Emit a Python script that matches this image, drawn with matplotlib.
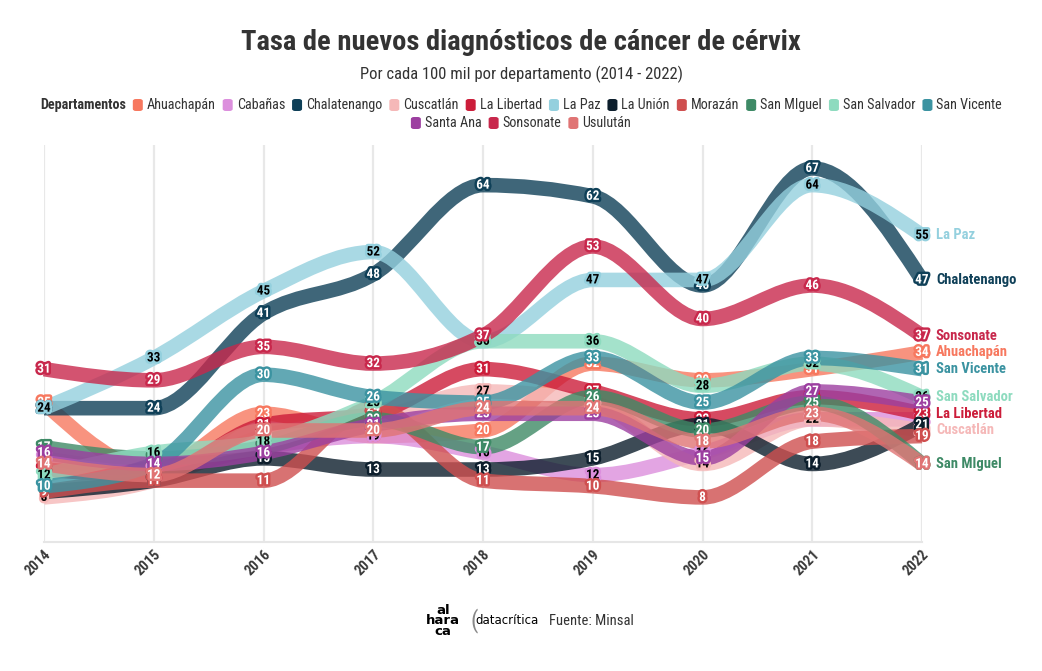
import numpy as np
import matplotlib
matplotlib.use("Agg")
import matplotlib.pyplot as plt
from matplotlib import font_manager
from matplotlib.path import Path
from matplotlib.patches import PathPatch, FancyBboxPatch
import matplotlib.patheffects as pe

# pick a condensed-looking font if there is one
names = set(f.name for f in font_manager.fontManager.ttflist)
FONT = 'Roboto'
for cand in ['Roboto Condensed', 'Liberation Sans Narrow', 'Roboto']:
    if cand in names:
        FONT = cand
        break
plt.rcParams['font.family'] = [FONT, 'DejaVu Sans']

years = [2014, 2015, 2016, 2017, 2018, 2019, 2020, 2021, 2022]

departamentos = ['Ahuachapán', 'Cabañas', 'Chalatenango', 'Cuscatlán', 'La Libertad',
                 'La Paz', 'La Unión', 'Morazán', 'San MIguel', 'San Salvador',
                 'San Vicente', 'Santa Ana', 'Sonsonate', 'Usulután']

ahuachapan   = [25, 13, 23, 19, 20, 32, 29, 31, 34]
cabanas      = [15, 13, 17, 19, 16, 12, 16, 22, 22]
chalatenango = [24, 24, 41, 48, 64, 62, 46, 67, 47]
cuscatlan    = [8, 11, 19, 22, 27, 25, 14, 22, 20]
la_libertad  = [13, 12, 21, 23, 31, 27, 22, 26, 23]
la_paz       = [24, 33, 45, 52, 36, 47, 47, 64, 55]
la_union     = [9, 11, 15, 13, 13, 15, 21, 14, 21]
morazan      = [9, 11, 11, 24, 11, 10, 8, 18, 19]
san_miguel   = [17, 15, 17, 22, 17, 26, 20, 25, 14]
san_salvador = [12, 16, 18, 25, 36, 36, 28, 32, 26]
san_vicente  = [10, 14, 30, 26, 25, 33, 25, 33, 31]
santa_ana    = [16, 14, 16, 21, 23, 23, 15, 27, 25]
sonsonate    = [31, 29, 35, 32, 37, 53, 40, 46, 37]
usulutan     = [14, 12, 20, 20, 24, 24, 18, 23, 14]

valores = [ahuachapan, cabanas, chalatenango, cuscatlan, la_libertad, la_paz, la_union,
           morazan, san_miguel, san_salvador, san_vicente, santa_ana, sonsonate, usulutan]

colores = ['#f7785f', '#dc8fdd', '#0f4058', '#f5b8b8', '#cc1d3a', '#94d0de', '#0c1e2c',
           '#cf4f4f', '#3e8a66', '#8edbbf', '#3b93a1', '#9c3fa0', '#c8284c', '#e07474']
claros = {'Cabañas', 'Cuscatlán', 'La Paz', 'San Salvador'}

# departments that get a name at the right end
con_nombre = ['La Paz', 'Chalatenango', 'Sonsonate', 'Ahuachapán', 'San Vicente',
              'San Salvador', 'La Libertad', 'Cuscatlán', 'San MIguel']


def monotone_path(x, y):
    # monotone cubic (like d3 curveMonotoneX) drawn as bezier segments
    x = np.asarray(x, float)
    y = np.asarray(y, float)
    h = np.diff(x)
    s = np.diff(y) / h
    n = len(x)
    m = np.zeros(n)
    for i in range(1, n - 1):
        if s[i - 1] * s[i] <= 0:
            m[i] = 0
        else:
            p = (s[i - 1] * h[i] + s[i] * h[i - 1]) / (h[i - 1] + h[i])
            m[i] = np.sign(s[i]) * min(abs(s[i - 1]), abs(s[i]), 0.5 * abs(p)) * 2
    m[0] = (3 * s[0] - m[1]) / 2 if n > 2 else s[0]
    m[-1] = (3 * s[-1] - m[-2]) / 2 if n > 2 else s[-1]
    verts = [(x[0], y[0])]
    codes = [Path.MOVETO]
    for i in range(n - 1):
        d = h[i] / 3
        verts += [(x[i] + d, y[i] + m[i] * d), (x[i + 1] - d, y[i + 1] - m[i + 1] * d), (x[i + 1], y[i + 1])]
        codes += [Path.CURVE4] * 3
    return Path(verts, codes)


fig = plt.figure(figsize=(10.42, 6.71), dpi=100)
fig.patch.set_facecolor('white')
ax = fig.add_axes([44 / 1042, 1 - 542 / 671, 878 / 1042, 397 / 671])
ax.set_xlim(2014, 2022)
ax.set_ylim(0, 71.2)
ax.set_xticks(years)
ax.set_yticks([])
for sp in ['top', 'right', 'left']:
    ax.spines[sp].set_visible(False)
ax.spines['bottom'].set_color('#e6e6e6')
ax.spines['bottom'].set_linewidth(1.5)
ax.grid(axis='x', color='#e8e8e8', linewidth=1.6)
ax.set_axisbelow(True)
ax.tick_params(axis='x', length=0, pad=4)
for lab in ax.get_xticklabels():
    lab.set_rotation(45)
    lab.set_ha('right')
    lab.set_va('top')
    lab.set_rotation_mode('anchor')
    lab.set_fontweight('bold')
    lab.set_fontsize(10.5)
    lab.set_color('#3a3a3a')

for nombre, vals, col in zip(departamentos, valores, colores):
    patch = PathPatch(monotone_path(years, vals), facecolor='none', edgecolor=col,
                      lw=10.5, alpha=0.8, capstyle='butt', joinstyle='round', clip_on=False)
    ax.add_patch(patch)

for nombre, vals, col in zip(departamentos, valores, colores):
    tc = 'black' if nombre in claros else 'white'
    for xv, yv in zip(years, vals):
        ax.text(xv, yv, str(yv), ha='center', va='center', fontsize=9.5, fontweight='bold',
                color=tc, clip_on=False,
                path_effects=[pe.withStroke(linewidth=3.5, foreground=col)])
    if nombre in con_nombre:
        ax.annotate(nombre, (2022, vals[-1]), xytext=(10, 0), textcoords='offset points',
                    ha='left', va='center', fontsize=10.5, fontweight='bold', color=col)

# title and subtitle
fig.text(0.5, 1 - 42 / 671, 'Tasa de nuevos diagnósticos de cáncer de cérvix', ha='center',
         va='center', fontsize=20.5, fontweight='bold', color='#333333')
fig.text(0.5, 1 - 74 / 671, 'Por cada 100 mil por departamento (2014 - 2022)', ha='center',
         va='center', fontsize=12, color='#333333')

# legend drawn by hand in two centred rows
fig.canvas.draw()
rend = fig.canvas.get_renderer()
fs = 10.2
sq = 10 / 1042
gap = 4 / 1042
sep = 7 / 1042


def text_w(s, weight='normal'):
    t = fig.text(0, 0, s, fontsize=fs, fontweight=weight)
    w = t.get_window_extent(renderer=rend).width / 1042
    t.remove()
    return w


filas = [departamentos[:11], departamentos[11:]]
for k, fila in enumerate(filas):
    yrow = 1 - (105 + 18 * k) / 671
    items = []
    total = 0
    if k == 0:
        wt = text_w('Departamentos', 'bold')
        total += wt + sep
    for nm in fila:
        w = text_w(nm)
        items.append((nm, w))
        total += sq + gap + w + sep
    total -= sep
    x = 0.5 - total / 2
    if k == 0:
        fig.text(x, yrow, 'Departamentos', fontsize=fs, fontweight='bold', va='center', color='#333333')
        x += wt + sep
    for nm, w in items:
        col = colores[departamentos.index(nm)]
        fig.patches.append(FancyBboxPatch((x, yrow - 6 / 671), sq, 12 / 671,
                                          boxstyle='round,pad=0,rounding_size=0.003',
                                          transform=fig.transFigure, facecolor=col, edgecolor='none'))
        fig.text(x + sq + gap, yrow, nm, fontsize=fs, va='center', color='#333333')
        x += sq + gap + w + sep

# footer
fig.text(443 / 1042, 1 - 621 / 671, 'al\nhara\nca', ha='center', va='center', fontsize=9.5,
         fontweight='heavy', linespacing=0.75, family='DejaVu Sans')
fig.text(474 / 1042, 1 - 621 / 671, '(', ha='center', va='center', fontsize=17, color='#888888')
fig.text(507 / 1042, 1 - 621 / 671, 'datacrítica', ha='center', va='center', fontsize=8.5,
         color='black', family='DejaVu Sans')
fig.text(549 / 1042, 1 - 621 / 671, 'Fuente: Minsal', ha='left', va='center', fontsize=10.5,
         color='#333333')

fig.savefig('out.png', dpi=100, facecolor='white')
